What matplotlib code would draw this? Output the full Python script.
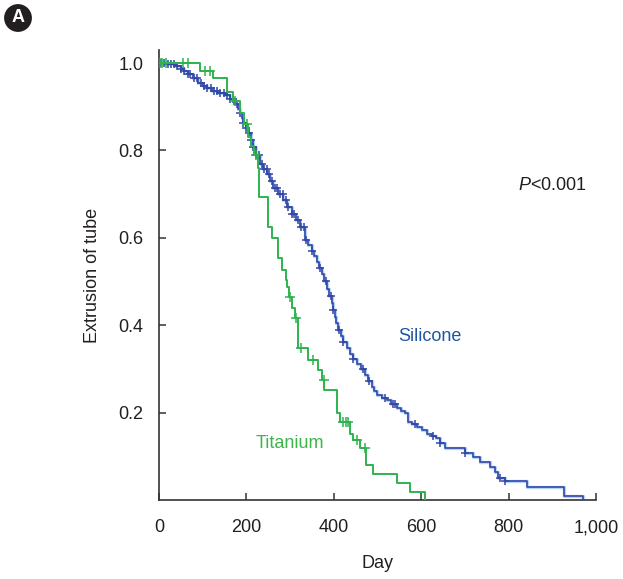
import numpy as np
import matplotlib
matplotlib.use("Agg")
import matplotlib.pyplot as plt

plt.rcParams['font.family'] = ['Liberation Sans', 'DejaVu Sans']
plt.rcParams['mathtext.fontset'] = 'custom'
plt.rcParams['mathtext.it'] = 'Liberation Sans:italic'
plt.rcParams['mathtext.rm'] = 'Liberation Sans'

# ---- data ----
sil_days = [0, 7, 20, 37, 50, 58, 66, 78, 89, 100, 110, 121, 136, 151, 163, 174, 180,
            185, 189, 192, 198, 204, 210, 215, 222, 231, 239, 247, 254, 261, 272, 284,
            294, 304, 313, 323, 334, 341, 349, 355, 361, 367, 372, 378, 384, 390, 395,
            399, 403, 406, 410, 416, 422, 430, 437, 445, 452, 462, 471, 479, 487, 493,
            498, 510, 521, 532, 544, 553, 563, 570, 580, 590, 602, 613, 624, 635, 643,
            654, 700, 719, 735, 757, 769, 776, 792, 842, 927, 970]
sil_surv = [1.0, 1.0, 0.997, 0.994, 0.986, 0.981, 0.976, 0.966, 0.955, 0.948, 0.943,
            0.937, 0.932, 0.926, 0.917, 0.907, 0.896, 0.885, 0.875, 0.864, 0.852, 0.839,
            0.823, 0.807, 0.790, 0.770, 0.758, 0.747, 0.731, 0.715, 0.700, 0.686, 0.671,
            0.655, 0.640, 0.625, 0.594, 0.583, 0.571, 0.558, 0.545, 0.531, 0.518, 0.501,
            0.484, 0.467, 0.450, 0.434, 0.419, 0.404, 0.389, 0.375, 0.362, 0.348, 0.335,
            0.323, 0.312, 0.299, 0.286, 0.272, 0.259, 0.250, 0.240, 0.234, 0.229, 0.219,
            0.210, 0.204, 0.198, 0.179, 0.173, 0.168, 0.160, 0.152, 0.146, 0.141, 0.130,
            0.119, 0.107, 0.098, 0.087, 0.075, 0.064, 0.050, 0.043, 0.030, 0.009, 0.0]
sil_censor = [5, 12, 20, 28, 35, 42, 50, 58, 66, 72, 80, 88, 95, 103, 110, 118, 125, 132,
              140, 148, 155, 163, 170, 178, 185, 192, 198, 205, 210, 216, 222, 228, 235,
              240, 246, 252, 258, 265, 270, 276, 283, 290, 296, 304, 310, 318, 325, 332,
              337, 350, 368, 382, 393, 399, 413, 422, 445, 467, 481, 517, 536, 540, 586,
              628, 643, 700, 780, 792]

tit_days = [0, 94, 124, 155, 169, 185, 195, 203, 210, 218, 227, 228, 249, 259, 273, 281,
            291, 293, 298, 305, 311, 318, 341, 364, 373, 378, 407, 414, 437, 445, 460,
            474, 490, 544, 574, 608]
tit_surv = [1.0, 0.981, 0.965, 0.933, 0.914, 0.885, 0.86, 0.83, 0.81, 0.79, 0.76, 0.693,
            0.624, 0.60, 0.555, 0.526, 0.503, 0.487, 0.464, 0.44, 0.416, 0.347, 0.32,
            0.297, 0.274, 0.251, 0.20, 0.178, 0.151, 0.137, 0.119, 0.08, 0.059, 0.039,
            0.018, 0.0]
tit_censor = [3, 8, 15, 55, 67, 105, 117, 174, 201, 222, 300, 313, 324, 352, 377, 420,
              427, 433, 453, 472]

x_ticks = [0, 200, 400, 600, 800, 1000]
x_ticklabels = ['0', '200', '400', '600', '800', '1,000']
y_ticks = [0.2, 0.4, 0.6, 0.8, 1.0]
y_ticklabels = ['0.2', '0.4', '0.6', '0.8', '1.0']

BLUE = '#3446a8'
BLUE_HALO = '#b3d6f2'
BLUE_TXT = '#1f56a3'
GREEN = '#2db34e'
GREEN_TXT = '#3cb54a'

fig = plt.figure(figsize=(6.23, 5.79), dpi=100)
ax = fig.add_axes([159/623, 79/579, 437/623, 450/579])


def surv_at(days, surv, t):
    d = np.asarray(days)
    s = np.asarray(surv)
    idx = np.searchsorted(d, t, side='right') - 1
    return s[np.clip(idx, 0, len(s) - 1)]


# Silicone
ax.step(sil_days, sil_surv, where='post', color=BLUE_HALO, lw=2.4, zorder=2)
ax.step(sil_days, sil_surv, where='post', color=BLUE, lw=1.2, zorder=3)
sc = np.array(sil_censor)
ax.plot(sc, surv_at(sil_days, sil_surv, sc), ls='none', marker='+', ms=6, mew=1.1,
        color=BLUE, zorder=4)

# Titanium
ax.step(tit_days, tit_surv, where='post', color=GREEN, lw=1.4, zorder=5)
tc = np.array(tit_censor)
ax.plot(tc, surv_at(tit_days, tit_surv, tc), ls='none', marker='+', ms=6.5, mew=1.1,
        color=GREEN, zorder=6)

ax.set_xlim(0, 1000)
ax.set_ylim(0, 1.03)
ax.set_xticks(x_ticks)
ax.set_xticklabels(x_ticklabels)
ax.set_yticks(y_ticks)
ax.set_yticklabels(y_ticklabels)
for s in ['top', 'right']:
    ax.spines[s].set_visible(False)
for s in ['left', 'bottom']:
    ax.spines[s].set_linewidth(1.2)
    ax.spines[s].set_color('#333333')
ax.tick_params(direction='in', length=5, width=1.1, color='#333333',
               labelsize=13, labelcolor='#231f20')
ax.tick_params(axis='y', pad=11)
ax.tick_params(axis='x', pad=14)
ax.set_xlabel('Day', fontsize=13, color='#231f20', labelpad=13)
ax.set_ylabel('Extrusion of tube', fontsize=13, color='#231f20', labelpad=13)

ax.text(822, 0.72, r'$P$<0.001', fontsize=13, color='#231f20', ha='left', va='center')
ax.text(547, 0.375, 'Silicone', fontsize=13, color=BLUE_TXT, ha='left', va='center')
ax.text(222, 0.13, 'Titanium', fontsize=13, color=GREEN_TXT, ha='left', va='center')

fig.text(18/623, 1 - 18/579, 'A', color='white', fontweight='bold', fontsize=13,
         ha='center', va='center',
         bbox=dict(boxstyle='circle,pad=0.3', fc='#231f20', ec='none'))

fig.savefig('out.png', dpi=100)
